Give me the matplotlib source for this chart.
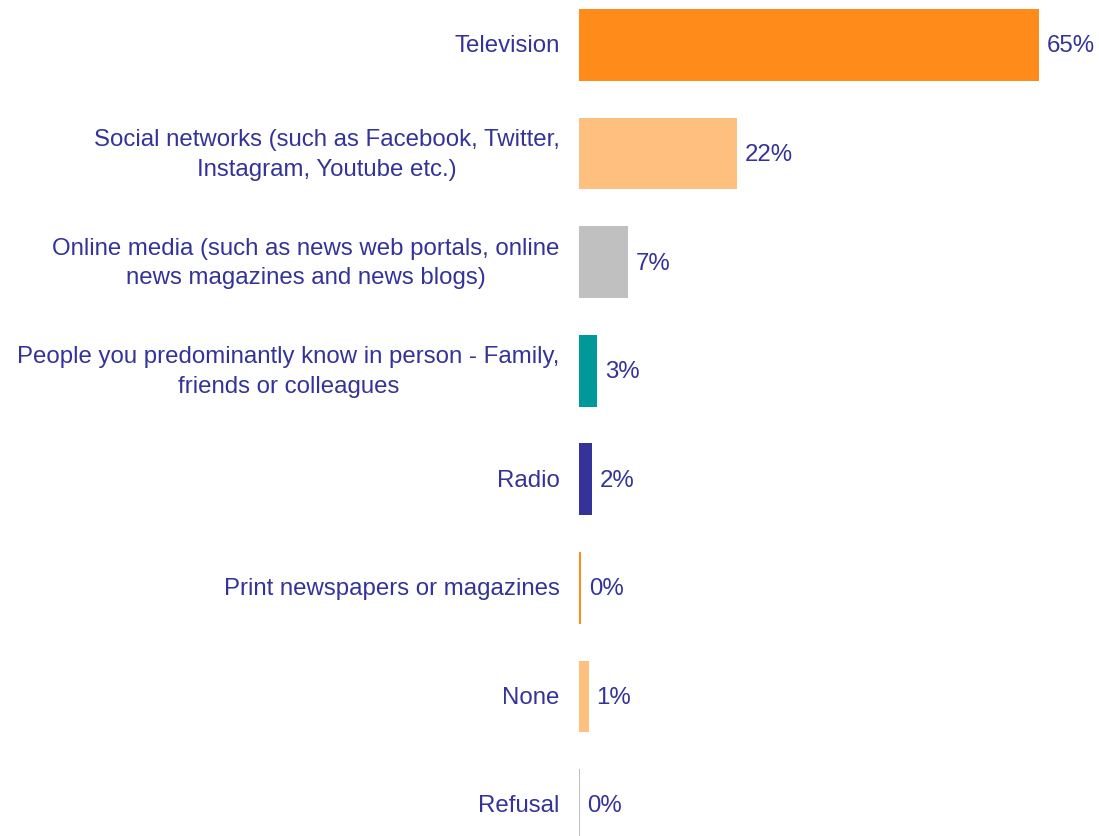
import matplotlib
matplotlib.use("Agg")
import matplotlib.pyplot as plt

plt.rcParams['font.family'] = ['Liberation Sans', 'DejaVu Sans']

categories = [
    "Television",
    "Social networks (such as Facebook, Twitter,\nInstagram, Youtube etc.)",
    "Online media (such as news web portals, online\nnews magazines and news blogs)",
    "People you predominantly know in person - Family,\nfriends or colleagues",
    "Radio",
    "Print newspapers or magazines",
    "None",
    "Refusal",
]
values = [65.0, 22.3, 6.9, 2.6, 1.8, 0.35, 1.4, 0.1]
colors = ["#FF8C1A", "#FFBF7F", "#C0C0C0", "#009999", "#333399",
          "#FF8C1A", "#FFBF7F", "#C0C0C0"]
text_color = "#333399"

fig = plt.figure(figsize=(10.99, 8.36), dpi=100)
ax = fig.add_axes([579 / 1099, 0, 1 - 579 / 1099, 1])

ypos = list(range(len(categories)))
ax.barh(ypos, values, height=0.66, color=colors, linewidth=0)

ax.set_xlim(0, 520 / 7.08)
ax.set_ylim(7.286, -0.4145)

for y, v in zip(ypos, values):
    ax.annotate(f"{v:.0f}%", xy=(v, y), xytext=(5.5, -1), textcoords="offset points",
                ha="left", va="center", fontsize=17.3, color=text_color)
    ax.annotate(categories[y], xy=(0, y), xytext=(-14, -1), textcoords="offset points",
                ha="right", va="center", multialignment="center",
                fontsize=17.3, color=text_color, linespacing=1.45,
                annotation_clip=False)

ax.axis("off")
fig.savefig("out.png", dpi=100)
